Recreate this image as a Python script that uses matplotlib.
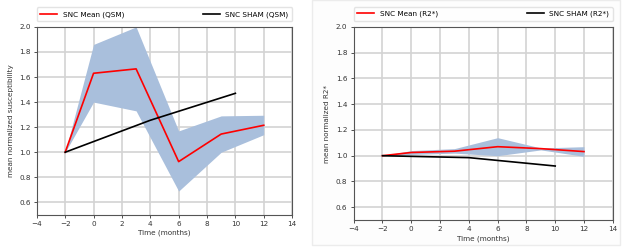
import matplotlib.pyplot as plt
from matplotlib.patches import Rectangle

# QSM panel
months = [-2, 0, 3, 6, 9, 12]
qsm_mean = [1.0, 1.63, 1.665, 0.925, 1.145, 1.215]
qsm_upper = [1.0, 1.86, 2.0, 1.17, 1.29, 1.295]
qsm_lower = [1.0, 1.40, 1.33, 0.69, 1.0, 1.14]
sham_months = [-2, 4, 10]
qsm_sham = [1.0, 1.255, 1.47]

# R2* panel
r2_mean = [1.0, 1.025, 1.035, 1.07, 1.055, 1.032]
r2_upper = [1.0, 1.04, 1.055, 1.14, 1.06, 1.07]
r2_lower = [1.0, 1.01, 1.02, 1.0, 1.045, 0.995]
r2_sham = [1.0, 0.985, 0.92]

yticks = [0.6, 0.8, 1.0, 1.2, 1.4, 1.6, 1.8, 2.0]
xticks = [-4, -2, 0, 2, 4, 6, 8, 10, 12, 14]

plt.rcParams['font.size'] = 5.2
fig = plt.figure(figsize=(6.35, 2.49), dpi=100)

# faint frame behind the right image
fig.patches.append(Rectangle((0.492, 0.015), 0.485, 0.985, transform=fig.transFigure,
                             facecolor='#fdfdfd', edgecolor='#ececec', lw=1, zorder=-5))

ax1 = fig.add_axes([0.058, 0.137, 0.402, 0.755])
ax2 = fig.add_axes([0.557, 0.116, 0.408, 0.776])


def draw_panel(ax, mean, upper, lower, sham, tag, ylabel):
    ax.fill_between(months, lower, upper, color='#a9bfdc', lw=0, zorder=2)
    ax.plot(months, mean, color='red', lw=1.2, label='SNC Mean (%s)' % tag, zorder=3)
    ax.plot(sham_months, sham, color='black', lw=1.2, label='SNC SHAM (%s)' % tag, zorder=3)
    ax.set_xlim(-4, 14)
    ax.set_ylim(0.5, 2.0)
    ax.set_xticks(xticks)
    ax.set_yticks(yticks)
    ax.set_xticklabels(['\u2212' + str(-t) if t < 0 else str(t) for t in xticks])
    ax.grid(True, color='#d3d3d3', lw=1.2, zorder=0)
    ax.set_axisbelow(True)
    ax.tick_params(length=2.5, width=0.6, pad=2, colors='#333333')
    for s in ax.spines.values():
        s.set_color('#555555')
        s.set_linewidth(0.8)
    ax.set_xlabel('Time (months)', labelpad=2, color='#333333')
    ax.set_ylabel(ylabel, labelpad=4, color='#333333')
    ax.legend(loc='lower left', bbox_to_anchor=(0, 1.03, 1, 0.1), ncol=2, mode='expand',
              borderaxespad=0, frameon=True, fontsize=5.2, handlelength=2.3,
              borderpad=0.5, edgecolor='#dddddd', fancybox=True)


draw_panel(ax1, qsm_mean, qsm_upper, qsm_lower, qsm_sham, 'QSM', 'mean normalized susceptibility')
draw_panel(ax2, r2_mean, r2_upper, r2_lower, r2_sham, 'R2*', 'mean normalized R2*')

fig.savefig('out.png', dpi=100)
